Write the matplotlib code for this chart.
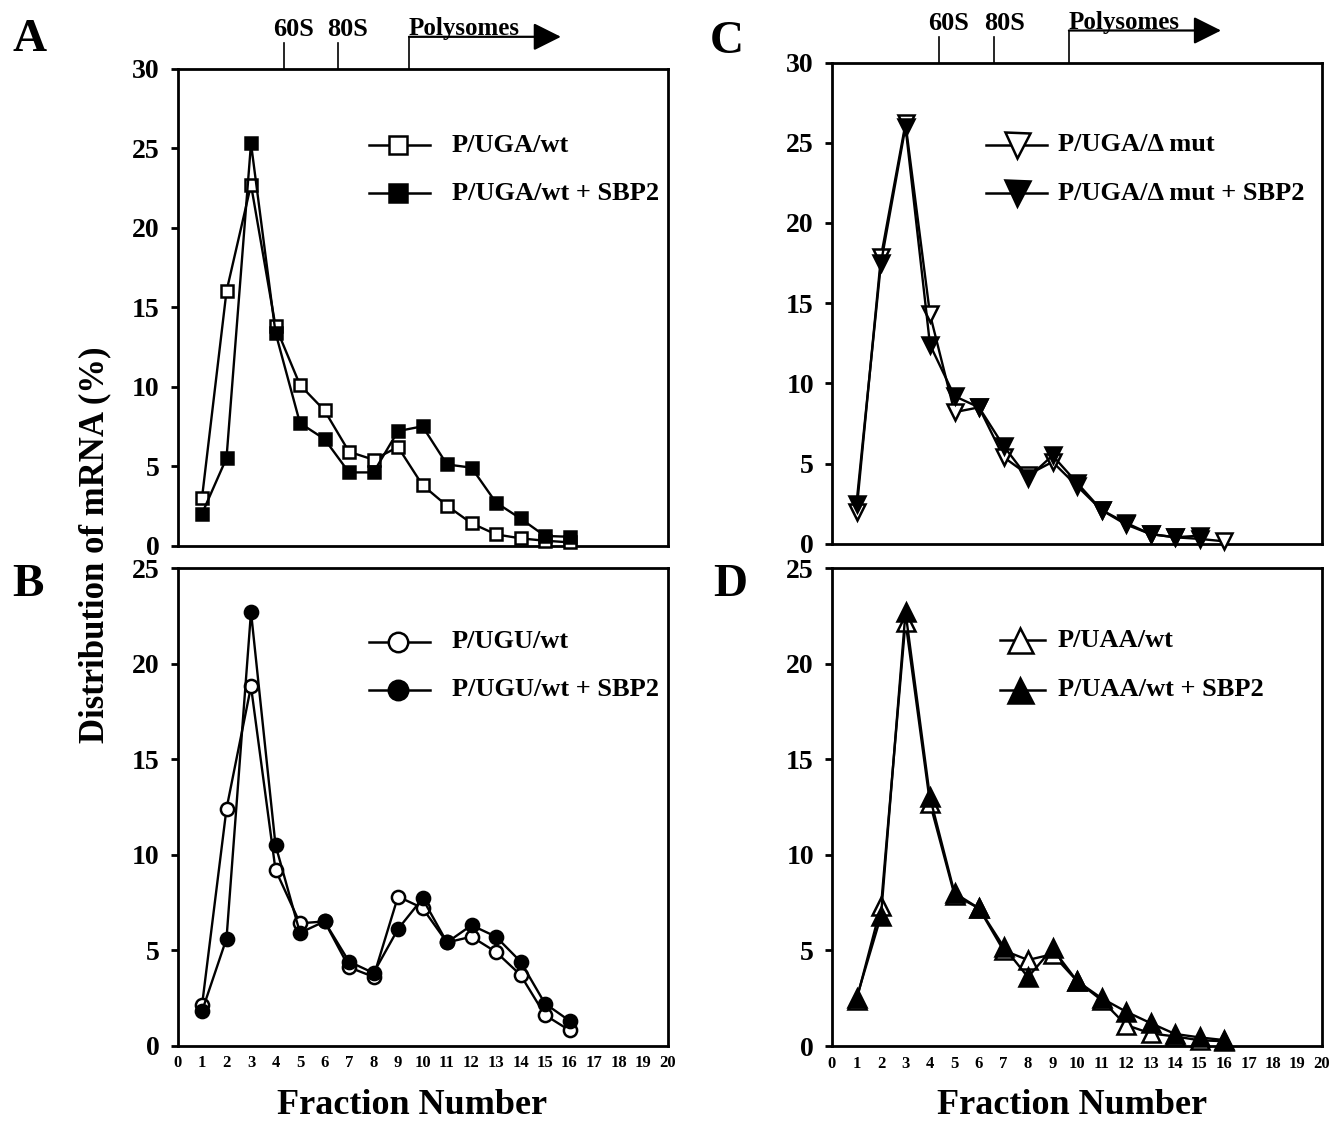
import matplotlib
matplotlib.use("Agg")
import matplotlib.pyplot as plt
import matplotlib.transforms as mtransforms

plt.rcParams['font.family'] = ['Liberation Serif', 'DejaVu Serif']
plt.rcParams['font.weight'] = 'bold'

# ---------------- data ----------------
fractions = list(range(1, 17))
fractions_c_filled = list(range(1, 16))

a_wt = [3.0, 16.0, 22.7, 13.8, 10.1, 8.5, 5.9, 5.4, 6.2, 3.8, 2.5, 1.4, 0.7, 0.45, 0.3, 0.2]
a_wt_sbp2 = [2.0, 5.5, 25.3, 13.4, 7.7, 6.7, 4.6, 4.6, 7.2, 7.5, 5.1, 4.9, 2.7, 1.7, 0.6, 0.55]

b_ugu = [2.1, 12.4, 18.8, 9.2, 6.4, 6.5, 4.1, 3.6, 7.8, 7.2, 5.4, 5.7, 4.9, 3.7, 1.6, 0.8]
b_ugu_sbp2 = [1.8, 5.6, 22.7, 10.5, 5.9, 6.5, 4.4, 3.8, 6.1, 7.7, 5.4, 6.3, 5.7, 4.4, 2.2, 1.3]

c_mut = [2.0, 17.9, 26.2, 14.3, 8.2, 8.5, 5.4, 4.3, 5.1, 3.6, 2.1, 1.2, 0.6, 0.4, 0.3, 0.15]
c_mut_sbp2 = [2.5, 17.5, 26.0, 12.4, 9.2, 8.5, 6.1, 4.1, 5.5, 3.8, 2.1, 1.3, 0.6, 0.4, 0.5]

d_uaa = [2.4, 7.3, 22.2, 12.7, 7.9, 7.2, 5.0, 4.5, 4.8, 3.4, 2.4, 1.1, 0.66, 0.5, 0.3, 0.25]
d_uaa_sbp2 = [2.5, 6.8, 22.7, 13.0, 8.0, 7.2, 5.2, 3.6, 5.1, 3.4, 2.5, 1.8, 1.2, 0.63, 0.45, 0.31]

labels_a = ['P/UGA/wt', 'P/UGA/wt + SBP2']
labels_b = ['P/UGU/wt', 'P/UGU/wt + SBP2']
labels_c = ['P/UGA/\u0394 mut', 'P/UGA/\u0394 mut + SBP2']
labels_d = ['P/UAA/wt', 'P/UAA/wt + SBP2']

x_ticklabels = [str(i) for i in range(0, 21)]

# ---------------- figure ----------------
W, H = 1341, 1121
fig = plt.figure(figsize=(W / 100, H / 100), dpi=100)
fig.patch.set_facecolor('white')


def add_ax(l, r, t, b):
    return fig.add_axes([l / W, 1 - b / H, (r - l) / W, (b - t) / H])


axA = add_ax(177.5, 667.5, 68.8, 545.5)
axB = add_ax(177.5, 667.5, 568, 1045.6)
axC = add_ax(832, 1322, 62.5, 543.7)
axD = add_ax(832, 1322, 568, 1046)


def style(ax, ymax, bottom_labels):
    ax.set_xlim(0, 20)
    ax.set_ylim(0, ymax)
    for s in ax.spines.values():
        s.set_linewidth(2.0)
    ax.set_yticks(range(0, ymax + 1, 5))
    ax.tick_params(axis='y', which='major', direction='out', length=5, width=2,
                   labelsize=20, pad=8)
    ax.set_xticks([0, 5, 10, 15, 20], minor=True)
    ax.tick_params(axis='x', which='minor', direction='inout', length=9, width=2)
    ax.set_xticks(range(0, 21))
    if bottom_labels:
        ax.set_xticklabels(x_ticklabels)
    else:
        ax.set_xticklabels([])
    ax.tick_params(axis='x', which='major', length=0, labelsize=12, pad=7)


def draw(ax, x_open, y_open, x_fill, y_fill, marker, ms):
    ax.plot(x_open, y_open, color='black', lw=1.7, marker=marker, ms=ms,
            mfc='white', mec='black', mew=1.8, zorder=3, clip_on=False)
    ax.plot(x_fill, y_fill, color='black', lw=1.7, marker=marker, ms=ms,
            mfc='black', mec='black', mew=1.8, zorder=4, clip_on=False)


def legend(ax, labels, marker, ms, x0, x1, xm, xt, ys):
    for lab, y, fc in zip(labels, ys, ['white', 'black']):
        ax.plot([x0, x1], [y, y], color='black', lw=1.8, transform=ax.transAxes,
                clip_on=False, zorder=5)
        ax.plot([xm], [y], marker=marker, ms=ms, mfc=fc, mec='black', mew=1.8,
                transform=ax.transAxes, clip_on=False, zorder=6, ls='none')
        ax.text(xt, y, lab, transform=ax.transAxes, fontsize=19, va='center',
                ha='left', fontweight='bold')


def top_marks(ax, x60, x80, xpoly, xend, top_px, height_px):
    trans = mtransforms.blended_transform_factory(ax.transData, ax.transAxes)

    def fy(dpx):
        return 1 + dpx / height_px

    for xv, lab in ((x60, '60S'), (x80, '80S')):
        ax.plot([xv, xv], [1, fy(26)], color='black', lw=1.2, transform=trans,
                clip_on=False)
        ax.text(xv + 0.4, fy(28), lab, transform=trans, ha='center',
                va='bottom', fontsize=19, fontweight='bold')
    ax.plot([xpoly, xpoly], [1, fy(32)], color='black', lw=1.2, transform=trans,
            clip_on=False)
    ax.annotate('', xy=(xend, fy(32)), xytext=(xpoly, fy(32)), xycoords=trans,
                textcoords=trans,
                arrowprops=dict(arrowstyle='-|>,head_length=1.0,head_width=0.5',
                                mutation_scale=17, lw=1.6, color='black',
                                shrinkA=0, shrinkB=0))
    ax.text(xpoly, fy(34), 'Polysomes', transform=trans, ha='left',
            va='baseline', fontsize=18, fontweight='bold')


style(axA, 30, False)
style(axB, 25, True)
style(axC, 30, False)
style(axD, 25, True)

draw(axA, fractions, a_wt, fractions, a_wt_sbp2, 's', 9)
draw(axB, fractions, b_ugu, fractions, b_ugu_sbp2, 'o', 9.5)
draw(axC, fractions, c_mut, fractions_c_filled, c_mut_sbp2, 'v', 12)
draw(axD, fractions, d_uaa, fractions, d_uaa_sbp2, '^', 13)

legend(axA, labels_a, 's', 13, 0.391, 0.515, 0.451, 0.560, [0.840, 0.739])
legend(axB, labels_b, 'o', 14, 0.391, 0.515, 0.451, 0.560, [0.846, 0.745])
legend(axC, labels_c, 'v', 18, 0.314, 0.438, 0.377, 0.461, [0.829, 0.728])
legend(axD, labels_d, '^', 18, 0.343, 0.435, 0.384, 0.461, [0.849, 0.745])

top_marks(axA, 4.33, 6.55, 9.45, 15.65, 68.8, 476.7)
top_marks(axC, 4.37, 6.63, 9.67, 15.88, 62.5, 481.2)

# panel letters
for lab, (px, py) in {'A': (30, 40), 'B': (28, 585), 'C': (727, 42), 'D': (730, 585)}.items():
    fig.text(px / W, 1 - py / H, lab, fontsize=34, fontweight='bold',
             ha='center', va='center')

fig.text(95 / W, 1 - 545 / H, 'Distribution of mRNA (%)', rotation=90,
         fontsize=25, fontweight='bold', ha='center', va='center')
fig.text(412 / W, 1 - 1105 / H, 'Fraction Number', fontsize=26,
         fontweight='bold', ha='center', va='center')
fig.text(1072 / W, 1 - 1105 / H, 'Fraction Number', fontsize=26,
         fontweight='bold', ha='center', va='center')

fig.savefig('out.png', dpi=100, facecolor='white')
